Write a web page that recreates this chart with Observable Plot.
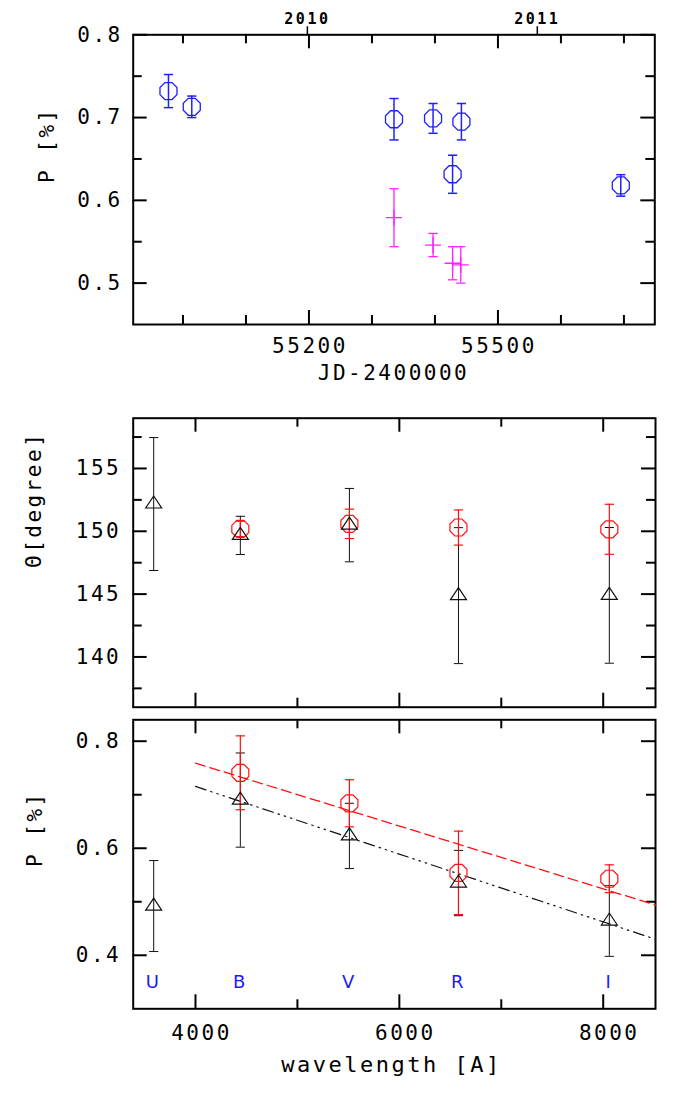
<!DOCTYPE html>
<html><head><meta charset="utf-8">
<script src="https://cdn.jsdelivr.net/npm/d3@7"></script>
<script src="https://cdn.jsdelivr.net/npm/@observablehq/plot@0.6"></script>
<style>
body{margin:0;background:#fff;}
#chart{width:696px;}
#chart svg{display:block;}
</style></head><body><div id="chart"></div>
<script>
// ---------- data ----------
// top panel: P [%] vs JD-2400000
const jdBlue  = [54977, 55014, 55335, 55397, 55442, 55428, 55695];
const pBlue   = [0.732, 0.713, 0.698, 0.699, 0.695, 0.6315, 0.618];
const eBlue   = [0.020, 0.013, 0.025, 0.018, 0.022, 0.023, 0.013];
const jdMag   = [55335, 55397, 55428, 55441];
const pMag    = [0.579, 0.546, 0.524, 0.522];
const eMag    = [0.035, 0.014, 0.020, 0.022];
const yearTickJD = [55197.5, 55562.5];
const yearTickLabels = ["2010", "2011"];
// middle / bottom panels: vs wavelength
const bands = ["U", "B", "V", "R", "I"];
const bandWave = [3590, 4440, 5510, 6580, 8060];
const thetaBlack    = [152.17, 149.67, 150.49, 144.88, 144.90];
const thetaBlackErr = [5.29, 1.52, 2.92, 5.41, 5.40];
const thetaRed      = [null, 150.19, 150.59, 150.30, 150.16];
const thetaRedErr   = [null, 0.61, 1.17, 1.40, 1.99];
const polBlack    = [0.492, 0.690, 0.623, 0.535, 0.464];
const polBlackErr = [0.085, 0.088, 0.061, 0.061, 0.066];
const polRed      = [null, 0.741, 0.684, 0.554, 0.543];
const polRedErr   = [null, 0.069, 0.044, 0.078, 0.026];
const fitRedWave = [4000, 8513], fitRedP = [0.759, 0.494];
const fitBlackWave = [4000, 8513], fitBlackP = [0.7155, 0.430];

// ---------- records ----------
const blue = jdBlue.map((x, i) => ({x, p: pBlue[i], e: eBlue[i]}));
const mag = jdMag.map((x, i) => ({x, p: pMag[i], e: eMag[i]}));
const thB = bandWave.map((x, i) => ({x, p: thetaBlack[i], e: thetaBlackErr[i]}));
const thR = bandWave.map((x, i) => ({x, p: thetaRed[i], e: thetaRedErr[i]})).filter(d => d.p != null);
const poB = bandWave.map((x, i) => ({x, p: polBlack[i], e: polBlackErr[i]}));
const poR = bandWave.map((x, i) => ({x, p: polRed[i], e: polRedErr[i]})).filter(d => d.p != null);
const fitR = fitRedWave.map((x, i) => ({x, p: fitRedP[i]}));
const fitB = fitBlackWave.map((x, i) => ({x, p: fitBlackP[i]}));
const bandRec = bands.map((b, i) => ({b, x: bandWave[i]}));
const years = yearTickJD.map((x, i) => ({x, t: yearTickLabels[i]}));

// ---------- symbols ----------
const unit = size => Math.sqrt(size / Math.PI);
const octagon = {draw(c, size) { const R = unit(size);
  for (let k = 0; k < 8; k++) { const a = Math.PI / 8 + k * Math.PI / 4;
    const px = R * Math.cos(a), py = R * Math.sin(a); k ? c.lineTo(px, py) : c.moveTo(px, py); }
  c.closePath(); }};
const triangle = {draw(c, size) { const s = unit(size);
  c.moveTo(0, -s); c.lineTo(s, s / 2); c.lineTo(-s, s / 2); c.closePath(); }};
const plus = {draw(c, size) { const s = unit(size);
  c.moveTo(-s, 0); c.lineTo(s, 0); c.moveTo(0, -s); c.lineTo(0, s); }};
const cap = {draw(c, size) { const s = unit(size); c.moveTo(-s, 0); c.lineTo(s, 0); }};

function errMarks(data, color, sw, capR) {
  return [
    Plot.ruleX(data, {x: "x", y1: d => d.p - d.e, y2: d => d.p + d.e, stroke: color, strokeWidth: sw}),
    Plot.dot(data, {x: "x", y: d => d.p - d.e, symbol: cap, r: capR, stroke: color, strokeWidth: sw, fill: "none"}),
    Plot.dot(data, {x: "x", y: d => d.p + d.e, symbol: cap, r: capR, stroke: color, strokeWidth: sw, fill: "none"})
  ];
}

const W = 696, ML = 132.7;
const LMAJ = 14, LMIN = 9, TW = 2;
function frameTicks(H, Wp, xMaj, xMin, yMaj, yMin) {
  return [
    Plot.ruleX(xMaj, {x: d => d, insetTop: H - LMAJ, strokeWidth: TW}),
    Plot.ruleX(xMaj, {x: d => d, insetBottom: H - LMAJ, strokeWidth: TW}),
    Plot.ruleX(xMin, {x: d => d, insetTop: H - LMIN, strokeWidth: TW}),
    Plot.ruleX(xMin, {x: d => d, insetBottom: H - LMIN, strokeWidth: TW}),
    Plot.ruleY(yMaj, {y: d => d, insetRight: Wp - LMAJ, strokeWidth: TW}),
    Plot.ruleY(yMaj, {y: d => d, insetLeft: Wp - LMAJ, strokeWidth: TW}),
    Plot.ruleY(yMin, {y: d => d, insetRight: Wp - LMIN, strokeWidth: TW}),
    Plot.ruleY(yMin, {y: d => d, insetLeft: Wp - LMIN, strokeWidth: TW}),
    Plot.frame({stroke: "black", strokeWidth: TW})
  ];
}
const svgStyle = "font-family: 'DejaVu Sans Mono', monospace; font-size: 21px; letter-spacing: 2.5px; overflow: visible; background: white;";
const BLUE = "#2020ff", MAG = "#ff22ff", RED = "#ff1010", BLK = "#111";

// ---------- panel 1 ----------
{
  const height = 395, mt = 34.3, mb = 71, mr = 41.7;
  const H = height - mt - mb, Wp = W - ML - mr;
  const f1 = d3.format(".1f");
  document.getElementById("chart").append(Plot.plot({
    width: W, height, marginTop: mt, marginBottom: mb, marginLeft: ML, marginRight: mr,
    style: svgStyle,
    x: {domain: [54921, 55749], axis: null},
    y: {domain: [0.45, 0.8], axis: null},
    marks: [
      ...frameTicks(H, Wp, [55200, 55500], [55000, 55100, 55300, 55400, 55600, 55700],
                    [0.5, 0.6, 0.7, 0.8], [0.55, 0.65, 0.75]),
      Plot.ruleX(years, {x: "x", insetTop: -8, insetBottom: H, strokeWidth: 1.5}),
      Plot.text(years, {x: "x", text: "t", frameAnchor: "top", dy: -15.5, fontSize: 15, dx: 0, lineAnchor: "middle", fontWeight: "bold", style: "letter-spacing:1px"}),
      Plot.text([55200, 55500], {x: d => d, text: d => String(d), frameAnchor: "bottom", dy: 21.5, dx: 1, lineAnchor: "middle"}),
      Plot.text([0.5, 0.6, 0.7, 0.8], {y: d => d, text: d => f1(d), frameAnchor: "left", dx: -10.5, textAnchor: "end", lineAnchor: "middle"}),
      Plot.text(["JD-2400000"], {frameAnchor: "bottom", dy: 49, dx: 393 - (ML + Wp / 2), lineAnchor: "middle", style: "letter-spacing:1px"}),
      Plot.text(["P [%]"], {frameAnchor: "left", rotate: -90, dx: 47 - ML, dy: 3.3, lineAnchor: "middle"}),
      ...errMarks(blue, BLUE, 1.5, 4.6),
      Plot.dot(blue, {x: "x", y: "p", symbol: octagon, r: 9.2, stroke: BLUE, strokeWidth: 1.3, fill: "none"}),
      ...errMarks(mag, MAG, 1.3, 4.6),
      Plot.dot(mag, {x: "x", y: "p", symbol: plus, r: 8, stroke: MAG, strokeWidth: 1.3, fill: "none"})
    ]
  }));
}

// ---------- panel 2 ----------
{
  const height = 318, mt = 22.7, mb = 6.3, mr = 41;
  const H = height - mt - mb, Wp = W - ML - mr;
  document.getElementById("chart").append(Plot.plot({
    width: W, height, marginTop: mt, marginBottom: mb, marginLeft: ML, marginRight: mr,
    style: svgStyle,
    x: {domain: [3389, 8513], axis: null},
    y: {domain: [136, 159], axis: null},
    marks: [
      ...frameTicks(H, Wp, [4000, 6000, 8000], [5000, 7000], [140, 145, 150, 155], [137.5, 142.5, 147.5, 152.5, 157.5]),
      Plot.text([140, 145, 150, 155], {y: d => d, text: d => String(d), frameAnchor: "left", dx: -12, textAnchor: "end", lineAnchor: "middle"}),
      Plot.text(["Θ[degree]"], {frameAnchor: "left", rotate: -90, dx: 34 - ML, dy: 5.3, lineAnchor: "middle"}),
      ...errMarks(thB, BLK, 1, 4.6),
      ...errMarks(thR, RED, 1.2, 4.6),
      Plot.dot(thR, {x: "x", y: "p", symbol: octagon, r: 9.2, stroke: RED, strokeWidth: 1.2, fill: "none"}),
      Plot.dot(thB, {x: "x", y: "p", symbol: triangle, r: 8, stroke: BLK, strokeWidth: 1.2, fill: "none"})
    ]
  }));
}

// ---------- panel 3 ----------
{
  const height = 381, mt = 6.3, mb = 85.7, mr = 41;
  const H = height - mt - mb, Wp = W - ML - mr;
  const f1 = d3.format(".1f");
  document.getElementById("chart").append(Plot.plot({
    width: W, height, marginTop: mt, marginBottom: mb, marginLeft: ML, marginRight: mr,
    style: svgStyle,
    x: {domain: [3389, 8513], axis: null},
    y: {domain: [0.3, 0.84], axis: null},
    marks: [
      ...frameTicks(H, Wp, [4000, 6000, 8000], [5000, 7000], [0.4, 0.6, 0.8], [0.5, 0.7]),
      Plot.text([4000, 6000, 8000], {x: d => d, text: d => String(d), frameAnchor: "bottom", dy: 24.2, dx: 6, lineAnchor: "middle"}),
      Plot.text([0.4, 0.6, 0.8], {y: d => d, text: d => f1(d), frameAnchor: "left", dx: -12, textAnchor: "end", lineAnchor: "middle"}),
      Plot.text(["wavelength [A]"], {frameAnchor: "bottom", dy: 56, dx: 391 - (ML + Wp / 2), fontSize: 22, lineAnchor: "middle", style: "letter-spacing:3px"}),
      Plot.text(["P [%]"], {frameAnchor: "left", rotate: -90, dx: 34.5 - ML, dy: 2.7, lineAnchor: "middle"}),
      Plot.text(bandRec, {x: "x", text: "b", frameAnchor: "bottom", dy: -26.6, fill: "#1a1aff", fontSize: 18, fontFamily: "'DejaVu Sans', sans-serif", lineAnchor: "middle", style: "letter-spacing:0px"}),
      Plot.line(fitR, {x: "x", y: "p", stroke: RED, strokeWidth: 1.3, strokeDasharray: "10,5"}),
      Plot.line(fitB, {x: "x", y: "p", stroke: BLK, strokeWidth: 1.2, strokeDasharray: "11,5,1.5,5,1.5,5,1.5,5"}),
      ...errMarks(poB, BLK, 1, 4.6),
      ...errMarks(poR, RED, 1.2, 4.6),
      Plot.dot(poR, {x: "x", y: "p", symbol: octagon, r: 9.2, stroke: RED, strokeWidth: 1.2, fill: "none"}),
      Plot.dot(poB, {x: "x", y: "p", symbol: triangle, r: 8, stroke: BLK, strokeWidth: 1.2, fill: "none"})
    ]
  }));
}
</script></body></html>
